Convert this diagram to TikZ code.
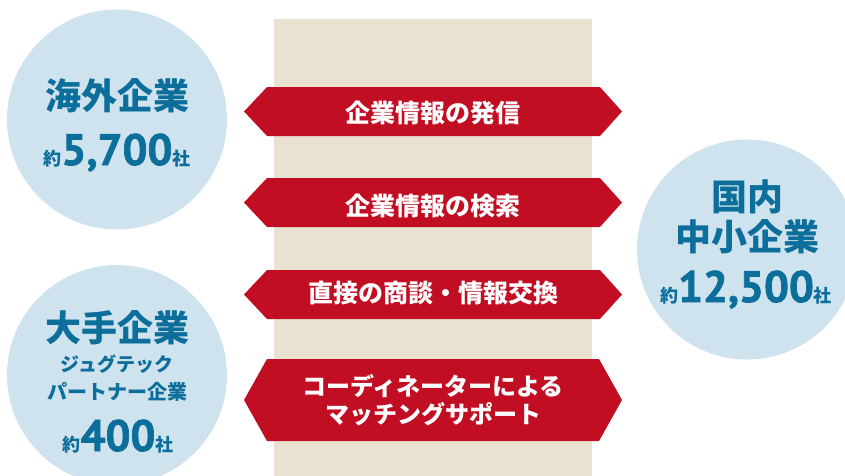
\documentclass[tikz,border=0pt]{standalone}
\usepackage{fontspec}
\setmainfont{Noto Sans CJK JP}
\newfontfamily\digits{PT Sans}[UprightFont={PT Sans Bold}, FakeBold=1.6]
\definecolor{beige}{HTML}{E9E2D0}
\definecolor{rred}{HTML}{C20E23}
\definecolor{cblue}{HTML}{CFE3EE}
\definecolor{tblue}{HTML}{0C6E9A}
\begin{document}
\begin{tikzpicture}[x=1pt,y=-1pt,
  bubble/.style={circle, fill=cblue, minimum size=220pt, inner sep=0},
  ttl/.style={text=tblue, anchor=base, inner sep=0, font=\bfseries\fontsize{36}{40}\selectfont},
  sub/.style={text=tblue, anchor=base, inner sep=0, font=\bfseries\fontsize{19}{22}\selectfont},
  cnt/.style={text=tblue, anchor=base, inner sep=0, font=\digits\mdseries\fontsize{44}{46}\selectfont},
  lbl/.style={text=white, anchor=base, inner sep=0, font=\bfseries\fontsize{25}{28}\selectfont},
  band/.style={fill=rred}]
\useasboundingbox (0,0) rectangle (845,475);
\clip (0,0) rectangle (845,475);
\newcommand{\sm}[1]{{\normalfont\bfseries\fontsize{18}{20}\selectfont #1}}
% beige column
\fill[beige] (274,19) rectangle (592,480);
% circles
\node[bubble] (c1) at (117,119.5) {};
\node[bubble] (c2) at (117,375) {};
\node[bubble] (c3) at (747,249.5) {};
\node[ttl] (t1) at (117,109.5) {海外企業};
\node[cnt] (n1) at (117,165) {\sm{約}5,700\sm{社}};
\node[ttl] (t2) at (117,341.5) {大手企業};
\node[sub] (s2a) at (117,371) {ジュグテック};
\node[sub,font=\bfseries\fontsize{20}{22}\selectfont] (s2b) at (117,399.5) {パートナー企業};
\node[cnt] (n2) at (118,451) {\sm{約}400\sm{社}};
\node[ttl] (t3a) at (747,210.5) {国内};
\node[ttl] (t3b) at (747,250.5) {中小企業};
\node[cnt] (n3) at (746,302) {\sm{約}12,500\sm{社}};
% double arrows
\fill[band] (244,111.5) -- (267,87) -- (600,87) -- (622,111.5) -- (600,136) -- (267,136) -- cycle;
\fill[band] (244,202.5) -- (267,178) -- (600,178) -- (622,202.5) -- (600,227) -- (267,227) -- cycle;
\fill[band] (244,294.5) -- (267,270) -- (600,270) -- (622,294.5) -- (600,319) -- (267,319) -- cycle;
\fill[band] (244,400) -- (267,359) -- (599,359) -- (622,400) -- (599,441) -- (267,441) -- cycle;
\node[lbl] (a1) at (433,122) {企業情報の発信};
\node[lbl] (a2) at (433,215.5) {企業情報の検索};
\node[lbl] (a3) at (433,302.5) {直接の商談・情報交換};
\node[lbl,font=\bfseries\fontsize{24}{28}\selectfont] (a4a) at (433,395) {コーディネーターによる};
\node[lbl,font=\bfseries\fontsize{24}{28}\selectfont] (a4b) at (433,423) {マッチングサポート};
\end{tikzpicture}
\end{document}
